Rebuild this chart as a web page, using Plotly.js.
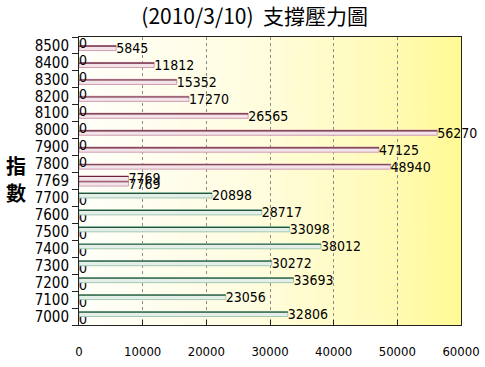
<!DOCTYPE html>
<html>
<head>
<meta charset="utf-8">
<script src="https://cdn.plot.ly/plotly-3.0.1.min.js"></script>
<style>html,body{margin:0;padding:0;background:#fff;}#chart{width:485px;height:367px;}</style>
</head>
<body>
<div id="chart"></div>
<script>
// Data
const categories = ['7000','7100','7200','7300','7400','7500','7600','7700','7769','7800','7900','8000','8100','8200','8300','8400','8500'];
const putValues  = [32806,23056,33693,30272,38012,33098,28717,20898,7769,0,0,0,0,0,0,0,0];
const callValues = [0,0,0,0,0,0,0,0,7769,48940,47125,56270,26565,17270,15352,11812,5845];
const xTicks = [0,10000,20000,30000,40000,50000,60000];
const yTitleChars = ['指','數'];

// gradient background
const cv = document.createElement('canvas');
cv.width = 400; cv.height = 10;
const ctx = cv.getContext('2d');
const g = ctx.createLinearGradient(0,0,400,0);
g.addColorStop(0,'#fffffa');
g.addColorStop(0.45,'#fffde0');
g.addColorStop(0.8,'#fffbb8');
g.addColorStop(1,'#fff994');
ctx.fillStyle = g; ctx.fillRect(0,0,400,10);
const bgURL = cv.toDataURL();

const fontNum = '"Liberation Sans Narrow","DejaVu Sans Condensed","Liberation Sans",sans-serif';
const H = 0.3, E = 0.07;
const pink = '#f3e4ea', pinkLine = '#cf9fb2', pinkDark = '#6a2038';
const green = '#e3efe8', greenLine = '#a3c7b3', greenDark = '#1f5638';
const putColors = putValues.map((v,i)=> categories[i]==='7769' ? pink : green);
const putLine = putValues.map((v,i)=> categories[i]==='7769' ? pinkLine : greenLine);
const putDark = putValues.map((v,i)=> categories[i]==='7769' ? pinkDark : greenDark);

const traces = [
  {type:'bar', orientation:'h', y:categories, x:callValues, offset:-H, width:H,
   marker:{color:pink, line:{color:pinkLine,width:1}},
   text:callValues.map(String), textposition:'outside', constraintext:'none', cliponaxis:false,
   textfont:{family:fontNum,size:14,color:'#000'}, hoverinfo:'none'},
  {type:'bar', orientation:'h', y:categories, x:callValues, offset:-E-0.005, width:E,
   marker:{color:pinkDark, line:{width:0}}, hoverinfo:'none'},
  {type:'bar', orientation:'h', y:categories, x:putValues, offset:0, width:H,
   marker:{color:putColors, line:{color:putLine,width:1}},
   text:putValues.map(String), textposition:'outside', constraintext:'none', cliponaxis:false,
   textfont:{family:fontNum,size:14,color:'#000'}, hoverinfo:'none'},
  {type:'bar', orientation:'h', y:categories, x:putValues, offset:H-E, width:E,
   marker:{color:putDark, line:{width:0}}, hoverinfo:'none'}
];

const layout = {
  width:485, height:367,
  margin:{l:79, r:24, t:37, b:42},
  paper_bgcolor:'#fff', plot_bgcolor:'rgba(0,0,0,0)',
  barmode:'overlay', showlegend:false,
  title:{text:'(2010/3/10)  支撐壓力圖', x:0.525, xanchor:'center', y:0.955, yanchor:'middle',
         font:{family:'"Liberation Sans Narrow","Noto Sans CJK TC",sans-serif', size:21, color:'#000'}},
  xaxis:{range:[0,60000], tickvals:xTicks, ticktext:xTicks.map(String), showgrid:true,
         gridcolor:'#8a8a8a', griddash:'3px,3px', gridwidth:1, zeroline:false,
         showline:true, linecolor:'#222', linewidth:1, mirror:true,
         ticks:'inside', ticklen:5, tickcolor:'#222', ticklabelstandoff:14,
         tickfont:{family:fontNum, size:13, color:'#000'}, fixedrange:true},
  yaxis:{type:'category', categoryorder:'array', categoryarray:categories, range:[-0.5,16.5],
         tickmode:'array', tickvals:categories, ticktext:categories,
         showline:true, linecolor:'#222', linewidth:1, mirror:true, showgrid:false, zeroline:false,
         ticks:'outside', tickson:'boundaries', ticklen:6, tickcolor:'#222', ticklabelstandoff:6,
         tickfont:{family:fontNum, size:15, color:'#000'}, fixedrange:true},
  images:[{source:bgURL, xref:'paper', yref:'paper', x:0, y:1, sizex:1, sizey:1,
           sizing:'stretch', layer:'below', xanchor:'left', yanchor:'top'}],
  annotations: yTitleChars.map((c,i)=>({text:c, xref:'paper', yref:'paper', x:-0.165, y:0.555 - i*0.095,
                xanchor:'center', yanchor:'middle', showarrow:false,
                font:{family:'"Noto Sans CJK TC",sans-serif', size:20, color:'#000', weight:'bold'}}))
};
Plotly.newPlot('chart', traces, layout, {staticPlot:true});
</script>
</body>
</html>
